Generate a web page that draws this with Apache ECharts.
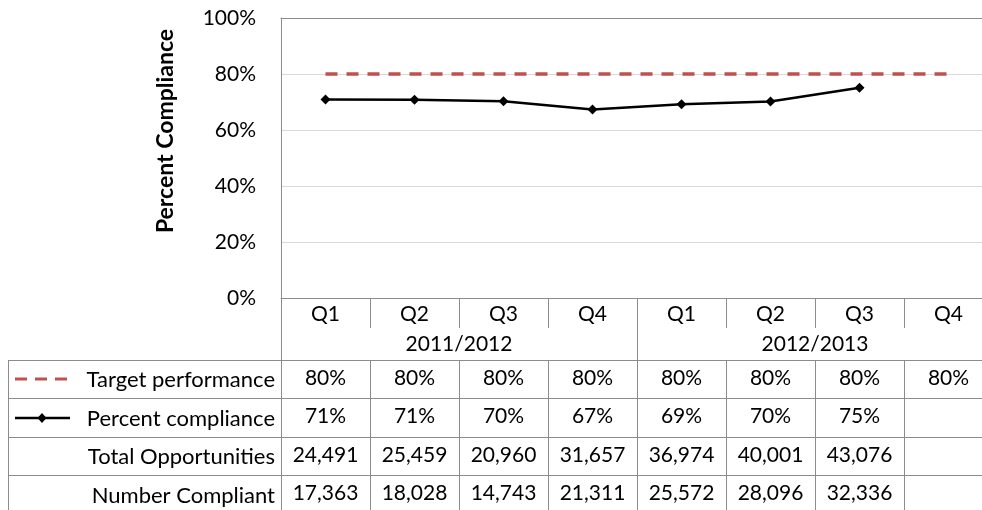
<!DOCTYPE html>
<html style="overflow: hidden">
<head>
<meta charset="utf-8">
<title>Percent Compliance</title>
<script src="https://cdn.jsdelivr.net/npm/echarts@6/dist/echarts.min.js"></script>
</head>
<body style="margin: 0; overflow: hidden">
<!-- wider than the window: the last column runs past the right edge like in the original -->
<div id="main" style="width: 1000px; height: 510px"></div>
<script type="text/javascript">
    // data
    var quarters = ['Q1', 'Q2', 'Q3', 'Q4', 'Q1', 'Q2', 'Q3', 'Q4'];
    var years = ['2011/2012', '2012/2013'];
    var target = [80, 80, 80, 80, 80, 80, 80, 80];
    var compliance = [70.9, 70.8, 70.3, 67.3, 69.2, 70.2, 75.1, null];
    var targetText = ['80%', '80%', '80%', '80%', '80%', '80%', '80%', '80%'];
    var complianceText = ['71%', '71%', '70%', '67%', '69%', '70%', '75%', ''];
    var totalOpp = ['24,491', '25,459', '20,960', '31,657', '36,974', '40,001', '43,076', ''];
    var numCompliant = ['17,363', '18,028', '14,743', '21,311', '25,572', '28,096', '32,336', ''];
    var rowNames = ['Target performance', 'Percent compliance', 'Total Opportunities', 'Number Compliant'];

    var FONT = 'Lato';
    var GRAY = '#8c8c8c';
    var FS = 21;

    // each table row is its own category axis hung below the plot
    function rowAxis(data, offset, height, margin, showLine) {
        return {
            type: 'category',
            position: 'bottom',
            offset: offset,
            data: data,
            axisLine: {show: showLine, lineStyle: {color: GRAY, width: 1}},
            axisTick: {show: true, length: height, lineStyle: {color: GRAY, width: 1}},
            axisLabel: {interval: 0, margin: margin, fontSize: FS, color: '#000', fontFamily: FONT},
            splitLine: {show: false}
        };
    }

    var rowTops = [62, 100, 139, 177];
    var rowH = [38, 39, 38, 40];

    var xAxes = [
        rowAxis(quarters, 0, 30, 6, true),
        rowAxis(years, 30, 32, 6, false),
        rowAxis(targetText, rowTops[0], rowH[0], 8, true),
        rowAxis(complianceText, rowTops[1], rowH[1], 8, true),
        rowAxis(totalOpp, rowTops[2], rowH[2], 8, true),
        rowAxis(numCompliant, rowTops[3], rowH[3], 8, true),
        // top border of the plot
        {type: 'category', position: 'top', data: quarters,
         axisLine: {show: true, lineStyle: {color: GRAY}}, axisTick: {show: false}, axisLabel: {show: false}}
    ];

    var gridTop = 18, gridBottom = 298;
    var graphics = [
        {type: 'text', rotation: Math.PI / 2, x: 166, y: 131,
         style: {text: 'Percent Compliance', fontSize: 23, fontWeight: 'bold', fontFamily: FONT,
                 fill: '#000', align: 'center', verticalAlign: 'middle'}},
        {type: 'line', shape: {x1: 8.5, y1: 360, x2: 8.5, y2: 510}, style: {stroke: GRAY, lineWidth: 1}}
    ];
    for (var i = 0; i < rowNames.length; i++) {
        var rowY = gridBottom + rowTops[i];
        graphics.push({type: 'line', shape: {x1: 8, y1: rowY + 0.5, x2: 281, y2: rowY + 0.5},
            style: {stroke: GRAY, lineWidth: 1}});
        graphics.push({type: 'text', x: 275, y: rowY + rowH[i] / 2 + 1,
            style: {text: rowNames[i], fontSize: 22, fontFamily: FONT, fill: '#000',
                    align: 'right', verticalAlign: 'middle'}});
    }
    // legend keys inside the row labels
    graphics.push({type: 'line', shape: {x1: 15, y1: 379, x2: 70, y2: 379},
        style: {stroke: '#C0504D', lineWidth: 3, lineDash: [12, 8]}});
    graphics.push({type: 'line', shape: {x1: 15, y1: 418, x2: 70, y2: 418},
        style: {stroke: '#000', lineWidth: 2.5}});
    graphics.push({type: 'polygon', shape: {points: [[42, 413], [46.5, 418], [42, 423], [37.5, 418]]},
        style: {fill: '#000'}});

    var myChart = echarts.init(document.getElementById('main'));
    var option = {
        animation: false,
        grid: {left: 281, top: gridTop, width: 712, height: gridBottom - gridTop, containLabel: false},
        xAxis: xAxes,
        yAxis: {
            type: 'value', min: 0, max: 100, interval: 20,
            axisLine: {show: true, lineStyle: {color: GRAY}},
            axisTick: {show: false},
            axisLabel: {formatter: '{value}%', fontSize: FS, color: '#000', fontFamily: FONT, margin: 25},
            splitLine: {lineStyle: {color: '#d9d9d9', width: 1}}
        },
        graphic: graphics,
        series: [
            {
                name: 'Target performance', type: 'line', xAxisIndex: 0, data: target,
                symbol: 'none', lineStyle: {color: '#C0504D', width: 3.5, type: [12, 9]}, z: 3
            },
            {
                name: 'Percent compliance', type: 'line', xAxisIndex: 0, data: compliance,
                symbol: 'diamond', symbolSize: 10, itemStyle: {color: '#000'},
                lineStyle: {color: '#000', width: 2.5}, z: 4
            }
        ]
    };
    myChart.setOption(option, true);
</script>
</body>
</html>
